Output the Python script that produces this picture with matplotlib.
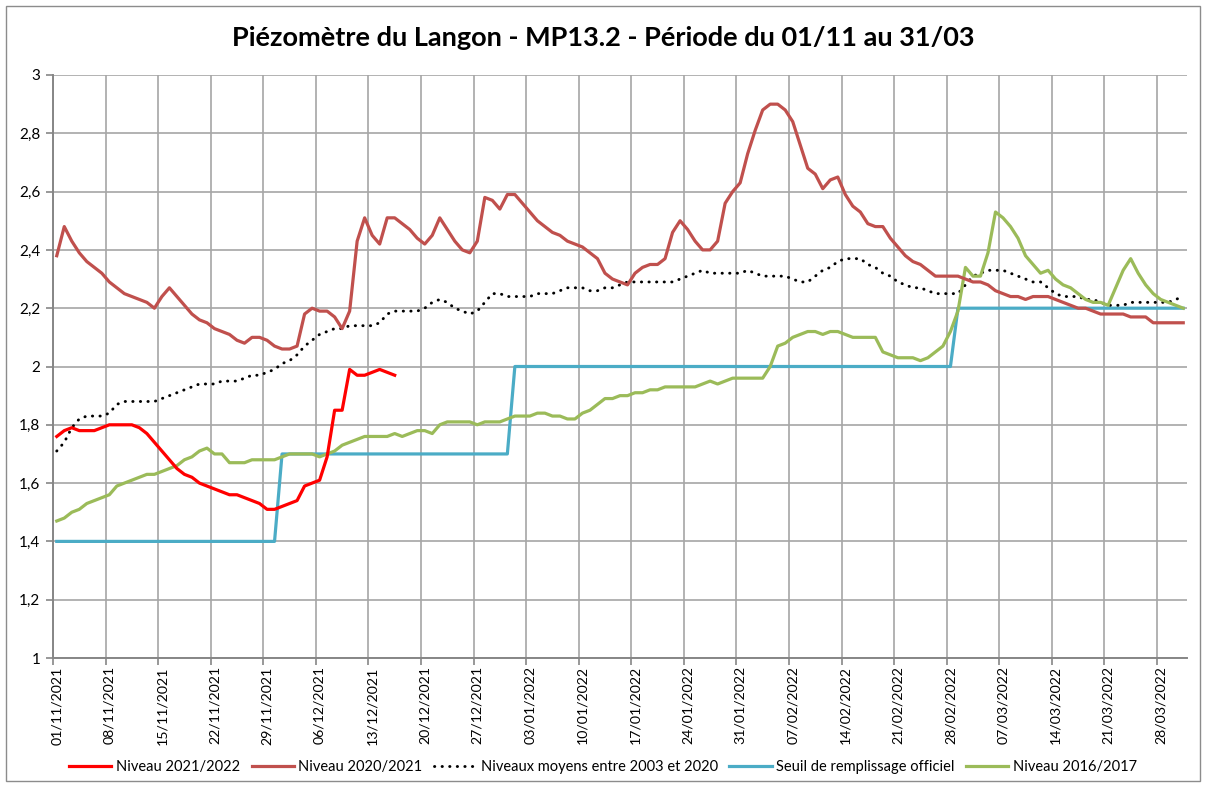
import pandas as pd
import matplotlib
matplotlib.use("Agg")
import matplotlib.pyplot as plt
import matplotlib.dates as mdates
from matplotlib.patches import Rectangle
from matplotlib.ticker import FixedLocator, FuncFormatter


OUTPUT_FILE = "out.png"

START_DATE = "2021-11-01"
END_DATE = "2022-03-31"

TITLE = "Piézomètre du Langon - MP13.2 - Période du 01/11 au 31/03"

# daily levels, one value per day starting 01/11
NIVEAU_2021_2022 = [
    1.76, 1.78, 1.79, 1.78, 1.78, 1.78, 1.79, 1.80, 1.80, 1.80, 1.80,
    1.79, 1.77, 1.74, 1.71, 1.68, 1.65, 1.63, 1.62, 1.60, 1.59,
    1.58, 1.57, 1.56, 1.56, 1.55, 1.54, 1.53, 1.51, 1.51, 1.52,
    1.53, 1.54, 1.59, 1.60, 1.61, 1.69, 1.85, 1.85, 1.99, 1.97,
    1.97, 1.98, 1.99, 1.98, 1.97,
]

NIVEAU_2020_2021 = [
    2.38, 2.48, 2.43, 2.39, 2.36, 2.34, 2.32, 2.29, 2.27, 2.25, 2.24,
    2.23, 2.22, 2.20, 2.24, 2.27, 2.24, 2.21, 2.18, 2.16, 2.15,
    2.13, 2.12, 2.11, 2.09, 2.08, 2.10, 2.10, 2.09, 2.07, 2.06,
    2.06, 2.07, 2.18, 2.20, 2.19, 2.19, 2.17, 2.13, 2.19, 2.43,
    2.51, 2.45, 2.42, 2.51, 2.51, 2.49, 2.47, 2.44, 2.42, 2.45,
    2.51, 2.47, 2.43, 2.40, 2.39, 2.43, 2.58, 2.57, 2.54, 2.59,
    2.59, 2.56, 2.53, 2.50, 2.48, 2.46, 2.45, 2.43, 2.42, 2.41,
    2.39, 2.37, 2.32, 2.30, 2.29, 2.28, 2.32, 2.34, 2.35, 2.35,
    2.37, 2.46, 2.50, 2.47, 2.43, 2.40, 2.40, 2.43, 2.56, 2.60,
    2.63, 2.73, 2.81, 2.88, 2.90, 2.90, 2.88, 2.84, 2.76, 2.68,
    2.66, 2.61, 2.64, 2.65, 2.59, 2.55, 2.53, 2.49, 2.48, 2.48,
    2.44, 2.41, 2.38, 2.36, 2.35, 2.33, 2.31, 2.31, 2.31, 2.31,
    2.30, 2.29, 2.29, 2.28, 2.26, 2.25, 2.24, 2.24, 2.23, 2.24,
    2.24, 2.24, 2.23, 2.22, 2.21, 2.20, 2.20, 2.19, 2.18, 2.18,
    2.18, 2.18, 2.17, 2.17, 2.17, 2.15, 2.15, 2.15, 2.15, 2.15,
]

NIVEAUX_MOYENS = [
    1.71, 1.74, 1.79, 1.82, 1.83, 1.83, 1.83, 1.84, 1.87, 1.88, 1.88,
    1.88, 1.88, 1.88, 1.89, 1.90, 1.91, 1.92, 1.93, 1.94, 1.94,
    1.94, 1.95, 1.95, 1.95, 1.96, 1.97, 1.97, 1.98, 1.99, 2.01,
    2.02, 2.04, 2.07, 2.09, 2.11, 2.12, 2.13, 2.13, 2.14, 2.14,
    2.14, 2.14, 2.15, 2.18, 2.19, 2.19, 2.19, 2.19, 2.20, 2.22,
    2.23, 2.22, 2.20, 2.19, 2.18, 2.19, 2.22, 2.25, 2.25, 2.24,
    2.24, 2.24, 2.24, 2.25, 2.25, 2.25, 2.26, 2.27, 2.27, 2.27,
    2.26, 2.26, 2.27, 2.27, 2.28, 2.29, 2.29, 2.29, 2.29, 2.29,
    2.29, 2.29, 2.30, 2.31, 2.32, 2.33, 2.32, 2.32, 2.32, 2.32,
    2.32, 2.33, 2.32, 2.31, 2.31, 2.31, 2.31, 2.30, 2.29, 2.29,
    2.31, 2.33, 2.34, 2.36, 2.37, 2.37, 2.37, 2.35, 2.34, 2.32,
    2.31, 2.29, 2.28, 2.27, 2.27, 2.26, 2.25, 2.25, 2.25, 2.25,
    2.28, 2.31, 2.32, 2.33, 2.33, 2.33, 2.32, 2.31, 2.30, 2.29,
    2.29, 2.27, 2.25, 2.24, 2.24, 2.24, 2.23, 2.23, 2.22, 2.21,
    2.21, 2.21, 2.22, 2.22, 2.22, 2.22, 2.22, 2.22, 2.23, 2.24,
]

NIVEAU_2016_2017 = [
    1.47, 1.48, 1.50, 1.51, 1.53, 1.54, 1.55, 1.56, 1.59, 1.60, 1.61,
    1.62, 1.63, 1.63, 1.64, 1.65, 1.66, 1.68, 1.69, 1.71, 1.72,
    1.70, 1.70, 1.67, 1.67, 1.67, 1.68, 1.68, 1.68, 1.68, 1.69,
    1.70, 1.70, 1.70, 1.70, 1.69, 1.70, 1.71, 1.73, 1.74, 1.75,
    1.76, 1.76, 1.76, 1.76, 1.77, 1.76, 1.77, 1.78, 1.78, 1.77,
    1.80, 1.81, 1.81, 1.81, 1.81, 1.80, 1.81, 1.81, 1.81, 1.82,
    1.83, 1.83, 1.83, 1.84, 1.84, 1.83, 1.83, 1.82, 1.82, 1.84,
    1.85, 1.87, 1.89, 1.89, 1.90, 1.90, 1.91, 1.91, 1.92, 1.92,
    1.93, 1.93, 1.93, 1.93, 1.93, 1.94, 1.95, 1.94, 1.95, 1.96,
    1.96, 1.96, 1.96, 1.96, 2.00, 2.07, 2.08, 2.10, 2.11, 2.12,
    2.12, 2.11, 2.12, 2.12, 2.11, 2.10, 2.10, 2.10, 2.10, 2.05,
    2.04, 2.03, 2.03, 2.03, 2.02, 2.03, 2.05, 2.07, 2.12, 2.19,
    2.34, 2.31, 2.31, 2.39, 2.53, 2.51, 2.48, 2.44, 2.38, 2.35,
    2.32, 2.33, 2.30, 2.28, 2.27, 2.25, 2.23, 2.22, 2.22, 2.21,
    2.27, 2.33, 2.37, 2.32, 2.28, 2.25, 2.23, 2.22, 2.21, 2.20,
]

# official threshold, constant per month
SEUIL_DATES = [
    "2021-11-01", "2021-11-30",
    "2021-12-01", "2021-12-31",
    "2022-01-01", "2022-02-28",
    "2022-03-01", "2022-03-31",
]
SEUIL_VALUES = [1.4, 1.4, 1.7, 1.7, 2.0, 2.0, 2.2, 2.2]

LABELS = [
    "Niveau 2021/2022",
    "Niveau 2020/2021",
    "Niveaux moyens entre 2003 et 2020",
    "Seuil de remplissage officiel",
    "Niveau 2016/2017",
]

COLORS = {
    "red": "#FF0000",
    "brown": "#C0504D",
    "blue": "#4BACC6",
    "green": "#9BBB59",
    "grid": "#A6A6A6",
    "axis": "#868686",
}


def daily(values):
    return pd.date_range(START_DATE, periods=len(values), freq="D")


def plot_chart():
    plt.rcParams["font.family"] = ["Lato", "DejaVu Sans"]

    fig = plt.figure(figsize=(12.06, 7.87), dpi=100)
    ax = fig.add_axes([53 / 1206, 1 - 658 / 787, (1187 - 53) / 1206, (658 - 75) / 787])

    lw = 2.3
    ax.plot(daily(NIVEAU_2021_2022), NIVEAU_2021_2022, color=COLORS["red"], lw=lw, label=LABELS[0], zorder=6)
    ax.plot(daily(NIVEAU_2020_2021), NIVEAU_2020_2021, color=COLORS["brown"], lw=lw, label=LABELS[1], zorder=5)
    ax.plot(daily(NIVEAUX_MOYENS), NIVEAUX_MOYENS, color="black", lw=2.1,
            linestyle=(0, (0.1, 2.5)), dash_capstyle="round", label=LABELS[2], zorder=4)
    ax.plot(pd.to_datetime(SEUIL_DATES), SEUIL_VALUES, color=COLORS["blue"], lw=lw, label=LABELS[3], zorder=3)
    ax.plot(daily(NIVEAU_2016_2017), NIVEAU_2016_2017, color=COLORS["green"], lw=lw, label=LABELS[4], zorder=4)

    start = pd.Timestamp(START_DATE)
    end = pd.Timestamp(END_DATE)
    half = pd.Timedelta(hours=12)
    ax.set_xlim(start - half, end + half)
    ax.set_ylim(1, 3)

    # gridlines and tick marks between days, labels on the day itself
    label_days = pd.date_range(start, end, freq="7D")
    ax.xaxis.set_major_locator(FixedLocator(mdates.date2num(label_days - half)))
    ax.xaxis.set_major_formatter(FuncFormatter(lambda v, p: ""))
    ax.xaxis.set_minor_locator(FixedLocator(mdates.date2num(label_days)))
    ax.xaxis.set_minor_formatter(mdates.DateFormatter("%d/%m/%Y"))
    ax.tick_params(axis="x", which="minor", length=0, labelsize=10.2, rotation=90, pad=6)
    ax.tick_params(axis="x", which="major", length=5, color=COLORS["axis"], width=1.2)

    yticks = [1 + 0.2 * i for i in range(11)]
    ax.set_yticks(yticks)
    ax.yaxis.set_major_formatter(FuncFormatter(lambda v, p: f"{v:.1f}".replace(".", ",").replace(",0", "")))
    ax.tick_params(axis="y", length=5, color=COLORS["axis"], width=1.2, labelsize=11, pad=4)

    ax.grid(True, which="major", color=COLORS["grid"], lw=1.2)
    ax.set_axisbelow(True)
    for side in ["top", "right"]:
        ax.spines[side].set_visible(False)
    for side in ["left", "bottom"]:
        ax.spines[side].set_color(COLORS["axis"])
        ax.spines[side].set_linewidth(1.4)

    fig.text(0.5, 1 - 38 / 787, TITLE, ha="center", va="center", fontsize=19.5, fontweight="bold")

    fig.legend(loc="center", bbox_to_anchor=(0.5, 1 - 767 / 787), ncol=5, frameon=False,
               fontsize=10.5, handlelength=2.9, handletextpad=0.3, columnspacing=0.8)

    fig.patches.append(Rectangle((6 / 1206, 6 / 787), 1194 / 1206, 775 / 787, transform=fig.transFigure,
                                 fill=False, edgecolor="#8c8c8c", lw=1.0))

    fig.savefig(OUTPUT_FILE, dpi=100)
    print(f"Saved plot to: {OUTPUT_FILE}")


def main():
    plot_chart()


if __name__ == "__main__":
    main()
